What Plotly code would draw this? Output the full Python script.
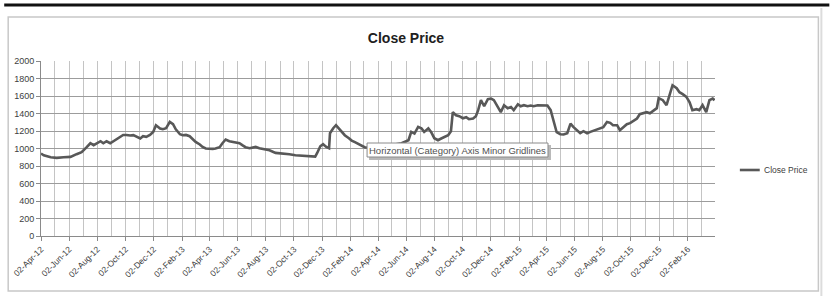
import plotly.graph_objects as go

dates = [
    "2012-04-02", "2012-04-08", "2012-04-23", "2012-05-06", "2012-05-21", "2012-06-05",
    "2012-06-18", "2012-06-29", "2012-07-10", "2012-07-18", "2012-07-25", "2012-07-31",
    "2012-08-09", "2012-08-15", "2012-08-22", "2012-08-30", "2012-09-06", "2012-09-12",
    "2012-09-21", "2012-09-27", "2012-10-04", "2012-10-12", "2012-10-19", "2012-10-25",
    "2012-11-03", "2012-11-09", "2012-11-16", "2012-11-24", "2012-12-01", "2012-12-07",
    "2012-12-16", "2012-12-22", "2012-12-29", "2013-01-06", "2013-01-13", "2013-01-19",
    "2013-01-28", "2013-02-03", "2013-02-10", "2013-02-18", "2013-02-25", "2013-03-03",
    "2013-03-12", "2013-03-18", "2013-03-25", "2013-04-02", "2013-04-09", "2013-04-15",
    "2013-04-24", "2013-04-30", "2013-05-07", "2013-05-15", "2013-05-22", "2013-05-28",
    "2013-06-06", "2013-06-12", "2013-06-19", "2013-06-28", "2013-07-04", "2013-07-11",
    "2013-07-19", "2013-07-26", "2013-08-01", "2013-08-10", "2013-08-23", "2013-09-07",
    "2013-09-22", "2013-10-05", "2013-10-20", "2013-11-04", "2013-11-17", "2013-11-21",
    "2013-11-28", "2013-12-04", "2013-12-11", "2013-12-17", "2013-12-19", "2013-12-26",
    "2014-01-01", "2014-01-07", "2014-01-14", "2014-01-20", "2014-01-29", "2014-02-04",
    "2014-02-11", "2014-02-19", "2014-02-26", "2014-03-04", "2014-03-19", "2014-04-10",
    "2014-05-02", "2014-05-23", "2014-06-07", "2014-06-13", "2014-06-20", "2014-06-28",
    "2014-07-05", "2014-07-11", "2014-07-20", "2014-07-26", "2014-08-02", "2014-08-10",
    "2014-08-17", "2014-08-23", "2014-09-01", "2014-09-07", "2014-09-11", "2014-09-18",
    "2014-09-25", "2014-10-03", "2014-10-10", "2014-10-16", "2014-10-25", "2014-10-31",
    "2014-11-05", "2014-11-11", "2014-11-18", "2014-11-26", "2014-12-03", "2014-12-09",
    "2014-12-18", "2014-12-24", "2014-12-31", "2015-01-08", "2015-01-15", "2015-01-21",
    "2015-01-30", "2015-02-05", "2015-02-12", "2015-02-20", "2015-02-27", "2015-03-05",
    "2015-03-14", "2015-03-20", "2015-03-27", "2015-04-04", "2015-04-11", "2015-04-17",
    "2015-04-24", "2015-05-02", "2015-05-09", "2015-05-17", "2015-05-24", "2015-05-30",
    "2015-06-08", "2015-06-14", "2015-06-21", "2015-06-29", "2015-07-06", "2015-07-12",
    "2015-07-21", "2015-07-27", "2015-08-03", "2015-08-11", "2015-08-18", "2015-08-24",
    "2015-09-02", "2015-09-08", "2015-09-15", "2015-09-23", "2015-09-30", "2015-10-06",
    "2015-10-15", "2015-10-21", "2015-10-28", "2015-11-05", "2015-11-12", "2015-11-18",
    "2015-11-27", "2015-12-01", "2015-12-10", "2015-12-18", "2015-12-25", "2015-12-31",
    "2016-01-09", "2016-01-15", "2016-01-22", "2016-01-30", "2016-02-06", "2016-02-12",
    "2016-02-21", "2016-02-27", "2016-03-05", "2016-03-13", "2016-03-20", "2016-03-27",
    "2016-03-31",
]

close_price = [
    943, 923, 900, 893, 900, 904,
    935, 958, 1015, 1060, 1038, 1060,
    1083, 1060, 1083, 1060, 1083, 1106,
    1140, 1155, 1155, 1148, 1152, 1140,
    1114, 1140, 1133, 1155, 1190, 1266,
    1229, 1220, 1232, 1304, 1278, 1220,
    1163, 1152, 1155, 1140, 1106, 1075,
    1046, 1018, 1000, 996, 996, 1000,
    1015, 1060, 1103, 1083, 1075, 1072,
    1060, 1038, 1015, 1003, 1011, 1018,
    1003, 996, 989, 980, 950, 946,
    935, 923, 915, 912, 908, 946,
    1026, 1049, 1018, 1003, 1175, 1232,
    1266, 1229, 1186, 1152, 1118, 1091,
    1072, 1049, 1026, 1015, 1000, 1010,
    1040, 1060, 1095, 1190, 1171, 1247,
    1232, 1190, 1229, 1190, 1118, 1095,
    1114, 1133, 1152, 1198, 1415, 1380,
    1369, 1346, 1357, 1335, 1343, 1369,
    1438, 1552, 1483, 1563, 1571, 1552,
    1461, 1415, 1495, 1461, 1475, 1438,
    1506, 1483, 1495, 1483, 1491, 1483,
    1495, 1495, 1495, 1491, 1438, 1323,
    1186, 1163, 1160, 1175, 1285, 1247,
    1198, 1175, 1198, 1175, 1190, 1201,
    1220, 1229, 1243, 1304, 1293, 1266,
    1266, 1209, 1243, 1278, 1290, 1312,
    1343, 1392, 1403, 1415, 1403, 1426,
    1461, 1575, 1552, 1495, 1609, 1723,
    1689, 1643, 1621, 1590, 1529, 1438,
    1449, 1438, 1495, 1415, 1552, 1571,
    1552,
]

series_name = "Close Price"
chart_title = "Close Price"
tooltip_text = "Horizontal (Category) Axis Minor Gridlines"

W, H = 830, 300
ML, MR, MT, MB = 37, 115, 61, 64
PW, PH = W - ML - MR, H - MT - MB


def px(x):
    return (x - ML) / PW


def py(y):
    return (H - MB - y) / PH


fig = go.Figure()
fig.add_trace(go.Scatter(
    x=dates, y=close_price, mode="lines", name=series_name,
    line=dict(color="#585858", width=2.6), showlegend=False,
))

font_family = "Liberation Sans, Arial, sans-serif"

fig.update_layout(
    width=W, height=H,
    margin=dict(l=ML, r=MR, t=MT, b=MB),
    paper_bgcolor="white", plot_bgcolor="white",
    font=dict(family=font_family, color="#404040"),
    title=dict(text="<b>" + chart_title + "</b>", x=406 / W, xref="container",
               y=1 - 38 / H, yref="container", xanchor="center", yanchor="middle",
               font=dict(size=14, color="#202020", family=font_family)),
    xaxis=dict(
        type="date", range=["2012-04-02", "2016-04-01"],
        tick0="2012-04-02", dtick="M2", tickformat="%d-%b-%y", tickangle=-45,
        tickfont=dict(size=8.5, color="#404040"),
        showgrid=True, gridcolor="#c4c4c4", gridwidth=1,
        minor=dict(dtick="M1", tick0="2012-04-02", showgrid=True,
                   gridcolor="#c4c4c4", gridwidth=1),
        showline=True, linecolor="#8a8a8a", linewidth=1,
        ticks="outside", ticklen=4, tickcolor="#8a8a8a",
        zeroline=False, fixedrange=True,
    ),
    yaxis=dict(
        range=[0, 2000], dtick=200, tickformat="d",
        tickfont=dict(size=9, color="#404040"),
        showgrid=True, gridcolor="#9c9c9c", gridwidth=1,
        showline=True, linecolor="#8a8a8a", linewidth=1,
        ticks="outside", ticklen=4, tickcolor="#8a8a8a",
        zeroline=False,
    ),
    showlegend=False,
)

shapes = [
    # top black rule
    dict(type="line", xref="paper", yref="paper", x0=px(0), x1=px(W), y0=py(5), y1=py(5),
         line=dict(color="#111111", width=3)),
    # chart area border
    dict(type="rect", xref="paper", yref="paper", x0=px(4), x1=px(819), y0=py(291), y1=py(17),
         line=dict(color="#c8c8c8", width=1.5)),
    # right scroll edge
    dict(type="line", xref="paper", yref="paper", x0=px(822), x1=px(822), y0=py(296), y1=py(8),
         line=dict(color="#dcdcdc", width=2)),
    # legend sample
    dict(type="line", xref="paper", yref="paper", x0=px(740), x1=px(760), y0=py(170), y1=py(170),
         line=dict(color="#585858", width=2.6)),
    # tooltip shadow
    dict(type="rect", xref="paper", yref="paper", x0=px(367), x1=px(550), y0=py(160), y1=py(145),
         line=dict(width=0), fillcolor="#b8b8b8", layer="above"),
    # tooltip box
    dict(type="rect", xref="paper", yref="paper", x0=px(365), x1=px(547), y0=py(157), y1=py(143),
         line=dict(color="#8a8a8a", width=1), fillcolor="white", layer="above"),
]
fig.update_layout(shapes=shapes)

fig.add_annotation(xref="paper", yref="paper", x=px(762), y=py(170), text=series_name,
                   showarrow=False, xanchor="left", yanchor="middle",
                   font=dict(size=8.5, color="#404040", family=font_family))

fig.add_annotation(xref="paper", yref="paper", x=px(456), y=py(150), text=tooltip_text,
                   showarrow=False, xanchor="center", yanchor="middle",
                   font=dict(size=9.5, color="#505050", family=font_family))

fig.write_html("out.html")
